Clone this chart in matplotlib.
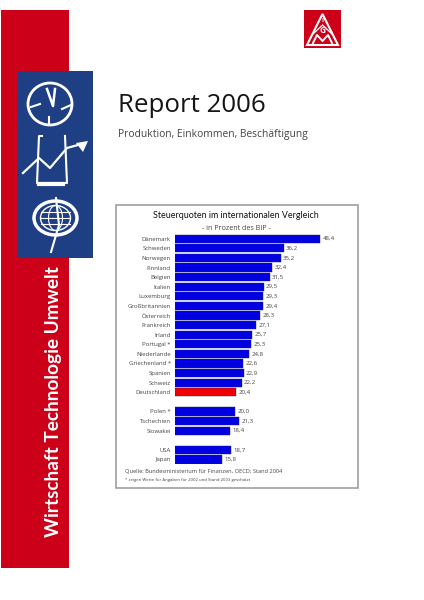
import numpy as np
import matplotlib
matplotlib.use('Agg')
import matplotlib.pyplot as plt
from matplotlib.patches import Rectangle, Polygon, Ellipse

# werte aus dem bild gelesen, leere zeilen trennen die gruppen
laender = ['Dänemark', 'Schweden', 'Norwegen', 'Finnland', 'Belgien', 'Italien',
           'Luxemburg', 'Großbritannien', 'Österreich', 'Frankreich', 'Irland',
           'Portugal *', 'Niederlande', 'Griechenland *', 'Spanien', 'Schweiz',
           'Deutschland', '', 'Polen *', 'Tschechien', 'Slowakei', '', 'USA', 'Japan']
quoten = [48.4, 36.2, 35.2, 32.4, 31.5, 29.5, 29.3, 29.4, 28.3, 27.1, 25.7, 25.3,
          24.8, 22.6, 22.9, 22.2, 20.4, None, 20.0, 21.3, 18.4, None, 18.7, 15.8]
quoten_text = ['48,4', '36,2', '35,2', '32,4', '31,5', '29,5', '29,3', '29,4', '28,3',
               '27,1', '25,7', '25,3', '24,8', '22,6', '22,9', '22,2', '20,4', '',
               '20,0', '21,3', '18,4', '', '18,7', '15,8']

W, H = 424, 600
ROT = '#cc0018'
BLAU = '#1f3f85'
FONT = ['Open Sans', 'DejaVu Sans']
SCHMAL = ['Lato', 'DejaVu Sans']
GRAU = '#444444'

fig = plt.figure(figsize=(W / 100, H / 100), dpi=100)
fig.patch.set_facecolor('white')

# seite in pixelkoordinaten
page = fig.add_axes([0, 0, 1, 1])
page.set_xlim(0, W)
page.set_ylim(H, 0)
page.axis('off')

page.add_patch(Rectangle((1, 10), 68, 558, fc=ROT, ec='none'))
page.add_patch(Rectangle((18, 71), 75, 187, fc=BLAU, ec='none'))
page.text(54, 537, 'Wirtschaft Technologie Umwelt', rotation=90, color='white', fontsize=13.7,
          fontweight='bold', family=SCHMAL, ha='center', va='bottom')

# uhr
page.add_patch(Ellipse((50, 104), 44, 42, fc='none', ec='white', lw=2))
page.plot([47, 53, 55], [89, 106, 89], color='white', lw=1.8)
page.plot([31, 40], [107, 104], color='white', lw=1.5)
page.plot([62, 71], [109, 105], color='white', lw=1.5)
page.plot([49, 49], [117, 124], color='white', lw=1.5)

# diagramm mit pfeil
page.plot([42, 39, 37, 67, 65], [136, 136, 183, 183, 136], color='white', lw=1.5)
page.plot([39, 63], [184, 184], color='white', lw=3)
page.plot([23, 39, 50, 67, 85], [173, 158, 168, 148, 143], color='white', lw=1.6)
page.add_patch(Polygon([[88, 141], [76, 143], [83, 152]], fc='white', ec='none'))

# globus
page.add_patch(Ellipse((55.5, 218), 43, 34, fc='none', ec='white', lw=2.5))
page.add_patch(Ellipse((55.5, 218), 30, 25, fc='none', ec='white', lw=1))
page.add_patch(Ellipse((55.5, 218), 14, 25, fc='none', ec='white', lw=0.8))
page.plot([41, 70], [218, 218], color='white', lw=0.8)
page.plot([41, 70], [212, 212], color='white', lw=0.8)
page.plot([41, 70], [224, 224], color='white', lw=0.8)
page.plot([56, 59, 51], [198, 225, 252], color='white', lw=1.5)

# ig metall logo
page.add_patch(Rectangle((304, 10), 37, 38, fc=ROT, ec='none'))
page.add_patch(Polygon([[322.5, 14], [338, 45], [307, 45]], fc='none', ec='white', lw=1.5))
page.plot([313, 322.5, 332], [34, 25, 34], color='white', lw=0.9)
page.plot([313, 317, 322.5, 328, 332], [43, 35, 41, 35, 43], color='white', lw=1.4)
page.text(322.5, 30.5, 'G', color='white', fontsize=6, fontweight='bold', family=FONT, ha='center', va='center')
page.text(322.5, 21, 'I', color='white', fontsize=4.5, fontweight='bold', family=FONT, ha='center', va='center')

page.text(118, 106, 'Report 2006', fontsize=18.6, family=FONT, color='#151515', ha='left', va='center')
page.text(118, 134, 'Produktion, Einkommen, Beschäftigung', fontsize=7.35, family=FONT,
          color=GRAU, ha='left', va='center')

# rahmen um das diagramm
page.add_patch(Rectangle((115.5, 204.5), 242, 283, fc='white', ec='#a0a0a0', lw=1.2))
page.text(236, 215, 'Steuerquoten im internationalen Vergleich', fontsize=6.4, family=SCHMAL,
          color='#111111', ha='center', va='center')
page.text(236, 228, '- in Prozent des BIP -', fontsize=5.1, family=FONT, color=GRAU,
          ha='center', va='center')
page.text(125, 471, 'Quelle: Bundesministerium für Finanzen, OECD; Stand 2004', fontsize=4.1,
          family=FONT, color=GRAU, ha='left', va='center')
page.text(125, 480, '* zeigen Werte für Angaben für 2002 und Stand 2003 geschätzt', fontsize=3.1,
          family=FONT, color=GRAU, ha='left', va='center')

# balken
PX_PRO_EINHEIT = 3.0
ZEILE = 9.6
ax_left, ax_right = 175, 345
ax_top, ax_bot = 238.7 - ZEILE / 2, 238.7 + 23.5 * ZEILE
ax = fig.add_axes([ax_left / W, 1 - ax_bot / H, (ax_right - ax_left) / W, (ax_bot - ax_top) / H])
ax.patch.set_alpha(0)
y = np.arange(len(laender))
for i, (q, t) in enumerate(zip(quoten, quoten_text)):
    if q is None:
        continue
    farbe = '#f00000' if laender[i] == 'Deutschland' else '#0000e0'
    ax.barh(i, q, height=0.84, color=farbe, edgecolor='#202080', linewidth=0.3)
    ax.text(q + 0.8, i, t, fontsize=4.4, family=FONT, color=GRAU, va='center', ha='left')
ax.set_xlim(0, (ax_right - ax_left) / PX_PRO_EINHEIT)
ax.set_ylim(len(laender) - 0.5, -0.5)
ax.set_yticks(y, laender, fontsize=4.3, family=FONT, color=GRAU)
ax.set_xticks([])
ax.tick_params(axis='y', length=0, pad=3)
for s in ax.spines.values():
    s.set_visible(False)

fig.savefig('out.png', dpi=100)
